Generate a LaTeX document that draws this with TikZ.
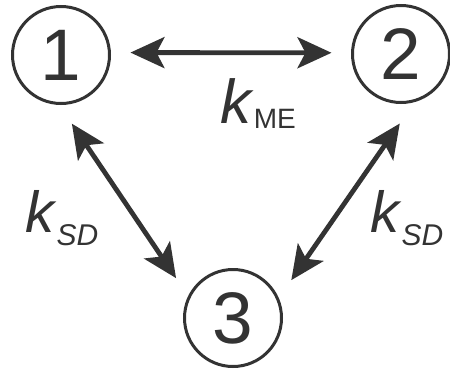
\documentclass[tikz,border=0pt]{standalone}
\usepackage{fontspec}
\setmainfont{Liberation Sans}
\usetikzlibrary{positioning, arrows.meta, calc}
\definecolor{ink}{HTML}{333333}
\newcommand{\kfont}[1]{\fontsize{#1}{#1}\selectfont}
\tikzset{
  statebox/.style={circle, draw=ink, line width=3pt, minimum size=97pt,
                   inner sep=0pt, outer sep=21pt, text=ink, font=\kfont{73}},
  ratelbl/.style={anchor=base west, inner sep=0pt, text=ink},
  arr/.style={{Stealth[length=34pt, width=31pt, inset=8pt]}-{Stealth[length=34pt, width=31pt, inset=8pt]},
              draw=ink, line width=4.8pt},
}

\begin{document}
\begin{tikzpicture}[x=1pt, y=-1pt]
  \useasboundingbox (0,0) rectangle (450,372);
  \node[statebox] (one) at (61,55) {1};
  \node[statebox] (two) at (401,54) {2};
  \node[statebox] (three) at (233,318) {3};
  \draw[arr] (one.2) -- (two.179);
  \draw[arr] (one.-81) -- (three.145);
  \draw[arr] (two.-91) -- (three.33);
  \node[ratelbl] (kme) at (220,123)
    {\kfont{62}\textit{k}\raisebox{-5pt}{\kfont{28}ME}};
  \node[ratelbl] (ksdl) at (25,232)
    {\kfont{58}\textit{k}\raisebox{-13pt}{\kfont{30}\textit{SD}}};
  \node[ratelbl] (ksdr) at (370,232)
    {\kfont{58}\textit{k}\raisebox{-13pt}{\kfont{30}\textit{SD}}};
\end{tikzpicture}
\end{document}
